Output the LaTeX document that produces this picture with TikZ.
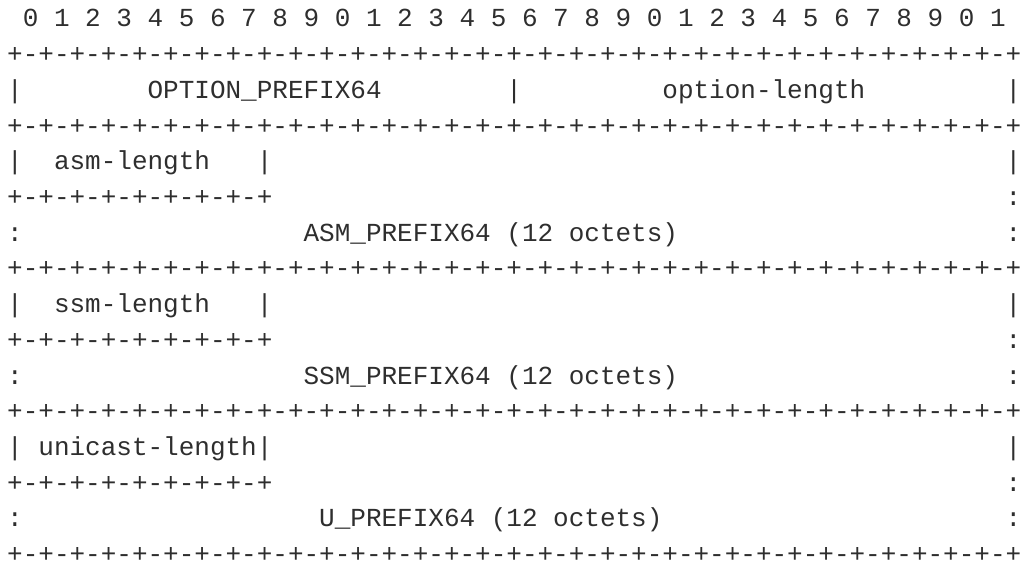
\documentclass[tikz,border=0pt]{standalone}
\usepackage{fontspec}
\newfontfamily\asciifont{Liberation Mono}
\tikzset{
  asc/.style={anchor=base west, inner sep=0pt, outer sep=0pt, text depth=0pt, font=\asciifont\fontsize{26bp}{30bp}\selectfont, text=black!82},
}
\newcommand{\cellat}[4]{\node[asc] (#1) at ({7.2+15.6*#2},{27+35.7*#3}) {#4};}
\newcommand{\fullrule}{+-+-+-+-+-+-+-+-+-+-+-+-+-+-+-+-+-+-+-+-+-+-+-+-+-+-+-+-+-+-+-+-+}
\newcommand{\shortrule}{+-+-+-+-+-+-+-+-+}
\begin{document}
\begin{tikzpicture}[x=1bp,y=-1bp]
\useasboundingbox (0,0) rectangle (1023,565);
% header
\cellat{bits}{1}{0}{0 1 2 3 4 5 6 7 8 9 0 1 2 3 4 5 6 7 8 9 0 1 2 3 4 5 6 7 8 9 0 1}
\cellat{r1}{0}{1}{\fullrule}
% option row
\cellat{r2a}{0}{2}{|}
\cellat{optcode}{9}{2}{OPTION\_PREFIX64}
\cellat{r2b}{32}{2}{|}
\cellat{optlen}{42}{2}{option-length}
\cellat{r2c}{64}{2}{|}
\cellat{r3}{0}{3}{\fullrule}
% ASM
\cellat{r4a}{0}{4}{|}
\cellat{asmlen}{3}{4}{asm-length}
\cellat{r4b}{16}{4}{|}
\cellat{r4c}{64}{4}{|}
\cellat{r5a}{0}{5}{\shortrule}
\cellat{r5b}{64}{5}{:}
\cellat{r6a}{0}{6}{:}
\cellat{asmpfx}{19}{6}{ASM\_PREFIX64 (12 octets)}
\cellat{r6b}{64}{6}{:}
\cellat{r7}{0}{7}{\fullrule}
% SSM
\cellat{r8a}{0}{8}{|}
\cellat{ssmlen}{3}{8}{ssm-length}
\cellat{r8b}{16}{8}{|}
\cellat{r8c}{64}{8}{|}
\cellat{r9a}{0}{9}{\shortrule}
\cellat{r9b}{64}{9}{:}
\cellat{r10a}{0}{10}{:}
\cellat{ssmpfx}{19}{10}{SSM\_PREFIX64 (12 octets)}
\cellat{r10b}{64}{10}{:}
\cellat{r11}{0}{11}{\fullrule}
% unicast
\cellat{r12a}{0}{12}{|}
\cellat{unilen}{2}{12}{unicast-length|}
\cellat{r12c}{64}{12}{|}
\cellat{r13a}{0}{13}{\shortrule}
\cellat{r13b}{64}{13}{:}
\cellat{r14a}{0}{14}{:}
\cellat{upfx}{20}{14}{U\_PREFIX64 (12 octets)}
\cellat{r14b}{64}{14}{:}
\cellat{r15}{0}{15}{\fullrule}
\end{tikzpicture}
\end{document}
